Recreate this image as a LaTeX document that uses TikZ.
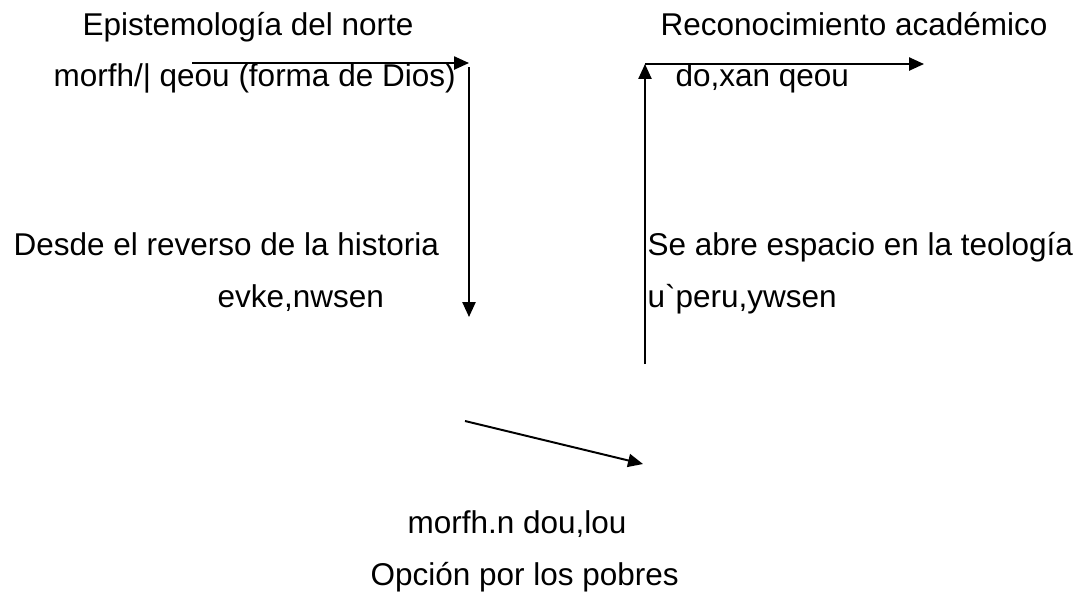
\documentclass[tikz,border=0pt]{standalone}
\usepackage{fontspec}
\setmainfont{Liberation Sans}[Ligatures=TeXOff]
\usetikzlibrary{arrows.meta,positioning}
\tikzset{
  txt/.style={anchor=base west, inner sep=0pt, font=\fontsize{12}{14}\selectfont},
  arr/.style={-{Triangle[length=5.7pt,width=5pt]}, line width=0.75pt}
}

\begin{document}
\begin{tikzpicture}[x=0.381pt, y=-0.381pt]
      \useasboundingbox (0, 0) rectangle (1086, 595);

      \node[txt] (epis) at (82, 35) {Epistemología del norte};
      \node[txt] (morf) at (53, 86) {morfh/| qeou (forma de Dios)};
      \node[txt] (reco) at (660, 35) {Reconocimiento académico};
      \node[txt] (doxa) at (675, 86) {do,xan qeou};
      \node[txt] (desd) at (13, 255) {Desde el reverso de la historia};
      \node[txt] (evke) at (217, 307) {evke,nwsen};
      \node[txt] (sabr) at (647, 255) {Se abre espacio en la teología};
      \node[txt] (uper) at (647, 307) {u{\char96}peru,ywsen};
      \node[txt] (dulo) at (407, 533) {morfh.n dou,lou};
      \node[txt] (opci) at (370, 585) {Opción por los pobres};

      \coordinate (a1s) at (192, 63);
      \coordinate (a1e) at (469, 63);
      \coordinate (a2s) at (469, 67);
      \coordinate (a2e) at (469, 317);
      \coordinate (a3s) at (645, 364);
      \coordinate (a3e) at (645, 64);
      \coordinate (a4e) at (924, 64);
      \coordinate (a5s) at (465, 421);
      \coordinate (a5e) at (643, 464);

      \draw[arr] (a1s) -- (a1e);
      \draw[arr] (a2s) -- (a2e);
      \draw[arr] (a3s) -- (a3e);
      \draw[arr] (a3e) -- (a4e);
      \draw[arr] (a5s) -- (a5e);
\end{tikzpicture}
\end{document}
